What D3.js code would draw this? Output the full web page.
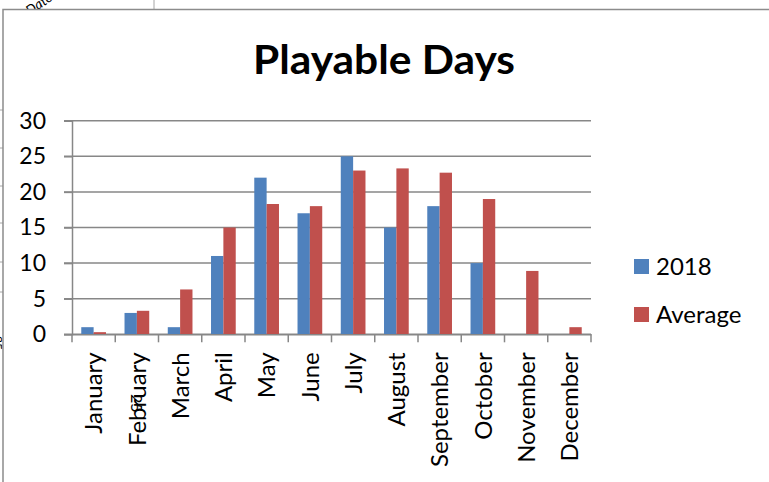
<!DOCTYPE html>
<html>
<head>
<meta charset="utf-8">
<script src="https://cdn.jsdelivr.net/npm/d3@7"></script>
<style>
  body { margin: 0; background: #fff; }
  svg { display: block; }
  text { font-family: Lato, "Open Sans", sans-serif; fill: #000; }
</style>
</head>
<body>
<script>
const months = ['January', 'February', 'March', 'April', 'May', 'June', 'July', 'August', 'September', 'October', 'November', 'December'];
const series = ['2018', 'Average'];
const values2018 = [1, 3, 1, 11, 22, 17, 25, 15, 18, 10, 0, 0];
const valuesAverage = [0.3, 3.3, 6.3, 15, 18.3, 18, 23, 23.3, 22.7, 19, 8.9, 1];
const yTicks = [0, 5, 10, 15, 20, 25, 30];
const colors = ['#4f81bd', '#c0504d'];

const width = 769, height = 482;
const margin = { left: 72, right: 178, top: 120.7, bottom: 147.7 }; // plot 72..591, 120.7..334.3
const plotW = width - margin.left - margin.right;
const plotH = height - margin.top - margin.bottom;

const svg = d3.select('body').append('svg').attr('width', width).attr('height', height);

// bits of the sheet behind the chart
const behind = svg.append('g').attr('stroke', '#a6a6a6').attr('stroke-width', 1);
[110, 148, 186, 223, 262, 292].forEach(function(yy) {
  behind.append('line').attr('x1', 0).attr('x2', 4).attr('y1', yy).attr('y2', yy);
});
behind.append('line').attr('x1', 154).attr('x2', 154).attr('y1', 0).attr('y2', 10);
svg.append('text').attr('transform', 'translate(30,16) rotate(-35)')
  .style('font-size', '14px').style('font-style', 'italic').text('Date');
svg.append('text').attr('transform', 'translate(-6,336) rotate(90)')
  .style('font-size', '12px').text('35');

// chart box
svg.append('rect').attr('x', 3).attr('y', 9.5).attr('width', 780).attr('height', 490)
  .attr('fill', '#fff').attr('stroke', '#8c8c8c').attr('stroke-width', 1.5);

// title
svg.append('text').attr('x', 384).attr('y', 74).attr('text-anchor', 'middle')
  .style('font-size', '41px').style('font-weight', 'bold')
  .attr('textLength', 262).attr('lengthAdjust', 'spacingAndGlyphs')
  .text('Playable Days');

const x0 = d3.scaleBand().domain(months).range([0, plotW]).paddingInner(0).paddingOuter(0);
const x1 = d3.scaleBand().domain(series).range([0, x0.bandwidth()]).paddingInner(0).paddingOuter(0.75);
const y = d3.scaleLinear().domain([0, 30]).range([plotH, 0]);

const chartGroup = svg.append('g').attr('transform', 'translate(' + margin.left + ',' + margin.top + ')');

// gridlines
chartGroup.append('g').attr('class', 'grid')
  .selectAll('line').data(yTicks).join('line')
  .attr('x1', -8).attr('x2', plotW)
  .attr('y1', function(d) { return y(d); }).attr('y2', function(d) { return y(d); })
  .attr('stroke', '#878787').attr('stroke-width', 1.5);

// bars
const rows = months.map(function(m, i) { return { month: m, vals: [values2018[i], valuesAverage[i]] }; });
chartGroup.append('g').selectAll('g').data(rows).join('g')
  .attr('transform', function(d) { return 'translate(' + x0(d.month) + ',0)'; })
  .selectAll('rect').data(function(d) { return d.vals.map(function(v, k) { return { s: series[k], v: v, k: k }; }); })
  .join('rect')
  .attr('x', function(d) { return x1(d.s); })
  .attr('width', x1.bandwidth())
  .attr('y', function(d) { return y(d.v); })
  .attr('height', function(d) { return plotH - y(d.v); })
  .attr('fill', function(d) { return colors[d.k]; });

// y axis
const yAxis = d3.axisLeft(y).tickValues(yTicks).tickSize(8).tickPadding(18);
const yg = chartGroup.append('g').attr('class', 'axis y').call(yAxis);
yg.select('.domain').attr('stroke', '#878787').attr('stroke-width', 1.5);
yg.selectAll('.tick line').attr('stroke', '#878787').attr('stroke-width', 1.5);
yg.selectAll('.tick text').style('font-size', '23px').style('font-family', 'Lato, sans-serif').attr('fill', '#000');

// x axis (ticks between categories)
const xAxis = d3.axisBottom(x0).tickSize(0).tickSizeOuter(0);
const xg = chartGroup.append('g').attr('class', 'axis x')
  .attr('transform', 'translate(0,' + plotH + ')').call(xAxis);
xg.select('.domain').attr('stroke', '#878787').attr('stroke-width', 1.5);
xg.selectAll('.tick text')
  .style('font-size', '24px').style('font-family', 'Lato, sans-serif').attr('fill', '#000')
  .attr('text-anchor', 'end')
  .attr('transform', 'rotate(-90)')
  .attr('x', -18).attr('y', 0).attr('dy', '0.36em');
chartGroup.append('g').selectAll('line').data(months.concat(['end'])).join('line')
  .attr('x1', function(d, i) { return i * x0.bandwidth(); })
  .attr('x2', function(d, i) { return i * x0.bandwidth(); })
  .attr('y1', plotH).attr('y2', plotH + 8)
  .attr('stroke', '#878787').attr('stroke-width', 1.5);

// overlapping fragment on February label
svg.append('text').attr('transform', 'translate(131,394) rotate(90)')
  .style('font-size', '16px').text('25');

// legend
const legend = svg.append('g').attr('transform', 'translate(634,259)');
series.forEach(function(s, i) {
  const g = legend.append('g').attr('transform', 'translate(0,' + (i * 48) + ')');
  g.append('rect').attr('width', 15).attr('height', 15).attr('fill', colors[i]);
  g.append('text').attr('x', 22).attr('y', 16).style('font-size', '24px').text(s);
});
</script>
</body>
</html>
